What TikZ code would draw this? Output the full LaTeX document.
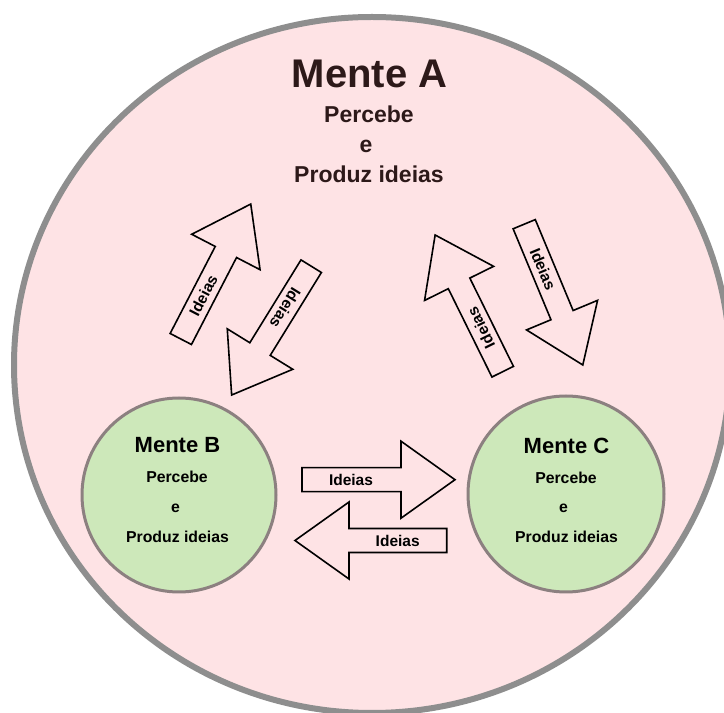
\documentclass[tikz,border=0pt]{standalone}
\usepackage{fontspec}
\setmainfont{Liberation Sans}
\usetikzlibrary{shapes.geometric,calc}
\definecolor{bgpink}{RGB}{254,227,229}
\definecolor{rimgray}{RGB}{142,142,142}
\definecolor{mindgreen}{RGB}{205,232,186}
\definecolor{circgray}{RGB}{140,128,128}
\definecolor{titlebrown}{RGB}{45,25,25}
\tikzset{
  blockarrow/.style={draw=black, line width=1.6pt, fill=bgpink, line join=miter},
  arrowlabel/.style={font=\fontsize{15.5}{18}\selectfont\bfseries, inner sep=0pt},
  mindcircle/.style={circle, draw=circgray, line width=3pt, fill=mindgreen, inner sep=0pt},
  bigtitle/.style={anchor=base, font=\fontsize{40}{48}\selectfont\bfseries, text=titlebrown, inner sep=0pt},
  bigline/.style={anchor=base, font=\fontsize{23}{28}\selectfont\bfseries, text=titlebrown, inner sep=0pt},
  smalltitle/.style={anchor=base, font=\fontsize{22}{26}\selectfont\bfseries, inner sep=0pt},
  smallline/.style={anchor=base, font=\fontsize{15.8}{19}\selectfont\bfseries, inner sep=0pt}
}
% #1 name, #2 x, #3 y (tail centre), #4 angle, #5 length, #6 text rotation
\newcommand\ideaarrow[6]{%
  \begin{scope}[shift={(#2,#3)},rotate=#4]
    \draw[blockarrow] (0,-12) -- ({#5-54},-12) -- ({#5-54},-38.5) -- (#5,0)
      -- ({#5-54},38.5) -- ({#5-54},12) -- (0,12) -- cycle;
  \end{scope}
  \node[arrowlabel,rotate=#6] (#1) at ($(#2,#3)+(#4:49)$) {Ideias};
}
\begin{document}
\begin{tikzpicture}[x=1pt,y=1pt]
\useasboundingbox (0,0) rectangle (724,713);
\clip (0,0) rectangle (724,713);
\fill[white] (0,0) rectangle (724,713);
% Mente A
\node[ellipse, draw=rimgray, line width=6pt, fill=bgpink, minimum width=716pt, minimum height=696pt, inner sep=0pt] (A) at (372,348) {};
\node[bigtitle] (a1) at (369.5,625) {Mente A};
\node[bigline] (a2) at (369,590) {Percebe};
\node[bigline] (a3) at (366,560) {e};
\node[bigline] (a4) at (369,530) {Produz ideias};
% Mente B
\node[mindcircle, minimum size=194pt] (B) at (179,218) {};
\node[smalltitle] (b1) at (177.5,260) {Mente B};
\node[smallline] (b2) at (177,230) {Percebe};
\node[smallline] (b3) at (175.5,200) {e};
\node[smallline] (b4) at (177.5,170) {Produz ideias};
% Mente C
\node[mindcircle, minimum size=196pt] (C) at (566,219) {};
\node[smalltitle] (c1) at (566.5,259) {Mente C};
\node[smallline] (c2) at (566,229) {Percebe};
\node[smallline] (c3) at (563.5,200) {e};
\node[smallline] (c4) at (566.5,170) {Produz ideias};
% arrows
\ideaarrow{i1}{180.8}{374}{62.6}{152}{62.6}
\ideaarrow{i2}{311.2}{446.8}{238.3}{151.4}{238.3}
\ideaarrow{i3}{502.7}{341.3}{116.3}{152.5}{116.3}
\ideaarrow{i4}{524.2}{488.8}{-67.4}{152.5}{-67.4}
\ideaarrow{i5}{302}{233.3}{0}{153}{0}
\ideaarrow{i6}{446.7}{172.5}{180}{151.7}{0}
\end{tikzpicture}
\end{document}
